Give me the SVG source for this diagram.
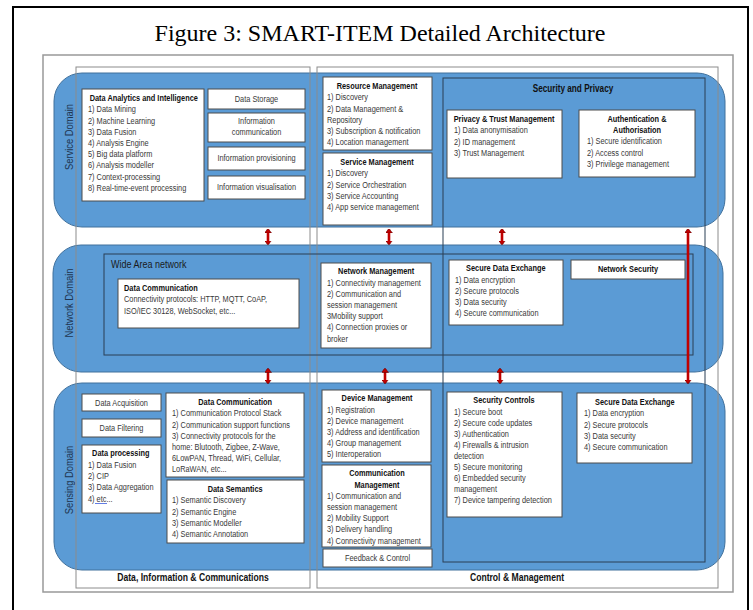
<svg xmlns="http://www.w3.org/2000/svg" width="753" height="610" viewBox="0 0 753 610">
<style>
.dom{fill:#5B9BD5;stroke:#41719C;stroke-width:1}
.col{fill:none;stroke:#8c8c8c;stroke-width:1}
.grp{fill:none;stroke:#2b3f55;stroke-width:1}
.box{fill:#fff;stroke:#4d4d4d;stroke-width:1}
.t{font-family:"Liberation Sans",Arial,sans-serif;font-size:9px;fill:#383838}
.b{font-weight:bold;fill:#111}
.c{text-anchor:middle}
.dl{font-family:"Liberation Sans",Arial,sans-serif;font-size:11px;fill:#1f3550;text-anchor:middle}
.bl{font-family:"Liberation Sans",Arial,sans-serif;font-size:10.5px;font-weight:bold;fill:#111;text-anchor:middle}
.arr{stroke:#C00000;stroke-width:2.6;fill:none;marker-start:url(#ah);marker-end:url(#ah)}
</style>
<defs>
<marker id="ah" viewBox="0 0 4.5 7" markerUnits="userSpaceOnUse" markerWidth="4.5" markerHeight="7" refX="3.5" refY="3.5" orient="auto-start-reverse">
<path d="M0,0 L4.5,3.5 L0,7 z" fill="#C00000" stroke="#5a0000" stroke-width="0.5"/>
</marker>
</defs>
<rect x="0" y="0" width="753" height="610" fill="#fff"/>
<rect x="13" y="7" width="735" height="610" fill="none" stroke="#000" stroke-width="2"/>
<text x="380" y="41" font-family="'Liberation Serif','Times New Roman',serif" font-size="24" text-anchor="middle" fill="#000">Figure 3: SMART-ITEM Detailed Architecture</text>
<rect x="43" y="55" width="690" height="537" fill="none" stroke="#999" stroke-width="1.5"/>

<g id="domains">
<g id="service-domain"><rect class="dom" x="54" y="73" width="671" height="154" rx="28"/><text class="dl" transform="translate(73,137) rotate(-90) scale(0.85,1)">Service Domain</text></g>
<g id="network-domain"><rect class="dom" x="53" y="245" width="670" height="127" rx="28"/><text class="dl" transform="translate(73,303) rotate(-90) scale(0.85,1)">Network Domain</text></g>
<g id="sensing-domain"><rect class="dom" x="54" y="383" width="671" height="187" rx="28"/><text class="dl" transform="translate(73,480) rotate(-90) scale(0.85,1)">Sensing Domain</text></g>
</g>

<g id="col-data"><rect class="col" x="76" y="67" width="234" height="521"/><text class="bl" transform="matrix(.82 0 0 1 193 0)" y="581">Data, Information &amp; Communications</text></g>
<g id="col-control"><rect class="col" x="317" y="67" width="401" height="521"/><text class="bl" transform="matrix(.82 0 0 1 517 0)" y="581">Control &amp; Management</text></g>
<g id="security-privacy"><rect class="grp" x="443" y="78" width="262" height="484"/><text class="t b c" transform="matrix(.82 0 0 1 573 0)" y="92" style="font-size:10px">Security and Privacy</text></g>
<g id="wide-area-network"><rect class="grp" x="104" y="254" width="589" height="101"/><text class="t" transform="matrix(.82 0 0 1 111 0)" y="268" style="font-size:11px;fill:#1a1a1a">Wide Area network</text></g>

<g id="data-analytics"><rect class="box" x="82" y="89" width="122" height="112"/>
<text class="t" transform="matrix(.82 0 0 1 88 0)"><tspan class="b" x="2" y="101">Data Analytics and Intelligence</tspan><tspan x="0" y="112.5">1) Data Mining</tspan><tspan x="0" y="123.7">2) Machine Learning</tspan><tspan x="0" y="134.9">3) Data Fusion</tspan><tspan x="0" y="146.1">4) Analysis Engine</tspan><tspan x="0" y="157.3">5) Big data platform</tspan><tspan x="0" y="168.5">6) Analysis modeller</tspan><tspan x="0" y="179.7">7) Context-processing</tspan><tspan x="0" y="190.9">8) Real-time-event processing</tspan></text></g>
<g id="data-storage"><rect class="box" x="208" y="89" width="97" height="20"/><text class="t c" transform="matrix(.82 0 0 1 256.5 0)" y="102">Data Storage</text></g>
<g id="info-communication"><rect class="box" x="208" y="113" width="97" height="29"/><text class="t c" transform="matrix(.82 0 0 1 256.5 0)"><tspan x="0" y="124">Information</tspan><tspan x="0" y="135">communication</tspan></text></g>
<g id="info-provisioning"><rect class="box" x="208" y="147" width="97" height="23"/><text class="t c" transform="matrix(.82 0 0 1 256.5 0)" y="161">Information provisioning</text></g>
<g id="info-visualisation"><rect class="box" x="208" y="176" width="97" height="23"/><text class="t c" transform="matrix(.82 0 0 1 256.5 0)" y="190">Information visualisation</text></g>

<g id="resource-management"><rect class="box" x="323" y="77" width="109" height="73"/>
<text class="t" transform="matrix(.82 0 0 1 327 0)"><tspan class="b c" x="61" y="89">Resource Management</tspan><tspan x="0" y="100.5">1) Discovery</tspan><tspan x="0" y="111.7">2) Data Management &amp;</tspan><tspan x="0" y="122.9">Repository</tspan><tspan x="0" y="134.1">3) Subscription &amp; notification</tspan><tspan x="0" y="145.3">4) Location management</tspan></text></g>
<g id="service-management"><rect class="box" x="323" y="153" width="109" height="72"/>
<text class="t" transform="matrix(.82 0 0 1 327 0)"><tspan class="b c" x="61" y="165">Service Management</tspan><tspan x="0" y="176.5">1) Discovery</tspan><tspan x="0" y="187.7">2) Service Orchestration</tspan><tspan x="0" y="198.9">3) Service Accounting</tspan><tspan x="0" y="210.1">4) App service management</tspan></text></g>

<g id="privacy-trust"><rect class="box" x="447" y="110" width="115" height="68"/>
<text class="t" transform="matrix(.82 0 0 1 454 0)"><tspan class="b c" x="61" y="122">Privacy &amp; Trust Management</tspan><tspan x="0" y="133.5">1) Data anonymisation</tspan><tspan x="0" y="144.7">2) ID management</tspan><tspan x="0" y="155.9">3) Trust Management</tspan></text></g>
<g id="auth"><rect class="box" x="579" y="110" width="116" height="67"/>
<text class="t" transform="matrix(.82 0 0 1 587 0)"><tspan class="b c" x="61" y="122">Authentication &amp;</tspan><tspan class="b c" x="61" y="133">Authorisation</tspan><tspan x="0" y="144.5">1) Secure identification</tspan><tspan x="0" y="155.7">2) Access control</tspan><tspan x="0" y="166.9">3) Privilege management</tspan></text></g>

<g id="net-data-communication"><rect class="box" x="118" y="279" width="181" height="49"/>
<text class="t" transform="matrix(.82 0 0 1 124 0)"><tspan class="b" x="0" y="291">Data Communication</tspan><tspan x="0" y="302.5">Connectivity protocols: HTTP, MQTT, CoAP,</tspan><tspan x="0" y="313.7">ISO/IEC 30128, WebSocket, etc...</tspan></text></g>
<g id="network-management"><rect class="box" x="321" y="263" width="110" height="85"/>
<text class="t" transform="matrix(.82 0 0 1 327 0)"><tspan class="b c" x="60" y="274.5">Network Management</tspan><tspan x="0" y="285.7">1) Connectivity management</tspan><tspan x="0" y="296.9">2) Communication and</tspan><tspan x="0" y="308.1">session management</tspan><tspan x="0" y="319.3">3Mobility support</tspan><tspan x="0" y="330.5">4) Connection proxies or</tspan><tspan x="0" y="341.7">broker</tspan></text></g>
<g id="net-secure-data-exchange"><rect class="box" x="449" y="260" width="114" height="65"/>
<text class="t" transform="matrix(.82 0 0 1 455 0)"><tspan class="b c" x="62" y="271.5">Secure Data Exchange</tspan><tspan x="0" y="282.7">1) Data encryption</tspan><tspan x="0" y="293.9">2) Secure protocols</tspan><tspan x="0" y="305.1">3) Data security</tspan><tspan x="0" y="316.3">4) Secure communication</tspan></text></g>
<g id="network-security"><rect class="box" x="571" y="260" width="114" height="19"/><text class="t b c" transform="matrix(.82 0 0 1 628 0)" y="272">Network Security</text></g>

<g id="data-acquisition"><rect class="box" x="82" y="394" width="79" height="17"/><text class="t c" transform="matrix(.82 0 0 1 121.5 0)" y="406">Data Acquisition</text></g>
<g id="data-filtering"><rect class="box" x="82" y="419" width="79" height="18"/><text class="t c" transform="matrix(.82 0 0 1 121.5 0)" y="431">Data Filtering</text></g>
<g id="data-processing"><rect class="box" x="82" y="445" width="79" height="68"/>
<text class="t" transform="matrix(.82 0 0 1 88 0)"><tspan class="b c" x="40" y="456.5">Data processing</tspan><tspan x="0" y="468">1) Data Fusion</tspan><tspan x="0" y="479.2">2) CIP</tspan><tspan x="0" y="490.4">3) Data Aggregation</tspan><tspan x="0" y="501.6">4) etc...</tspan></text>
<line x1="95" y1="503.5" x2="107" y2="503.5" stroke="#3b5bdb" stroke-width="0.8"/></g>
<g id="sens-data-communication"><rect class="box" x="166" y="393" width="138" height="84"/>
<text class="t" transform="matrix(.82 0 0 1 172 0)"><tspan class="b c" x="77" y="405">Data Communication</tspan><tspan x="0" y="416.5">1) Communication Protocol Stack</tspan><tspan x="0" y="427.7">2) Communication support functions</tspan><tspan x="0" y="438.9">3) Connectivity protocols for the</tspan><tspan x="0" y="450.1">home: Blutooth, Zigbee, Z-Wave,</tspan><tspan x="0" y="461.3">6LowPAN, Thread, WiFi, Cellular,</tspan><tspan x="0" y="472.5">LoRaWAN, etc...</tspan></text></g>
<g id="data-semantics"><rect class="box" x="167" y="480" width="137" height="63"/>
<text class="t" transform="matrix(.82 0 0 1 172 0)"><tspan class="b c" x="77" y="492">Data Semantics</tspan><tspan x="0" y="503.5">1) Semantic Discovery</tspan><tspan x="0" y="514.7">2) Semantic Engine</tspan><tspan x="0" y="525.9">3) Semantic Modeller</tspan><tspan x="0" y="537.1">4) Semantic Annotation</tspan></text></g>

<g id="device-management"><rect class="box" x="322" y="390" width="109" height="72"/>
<text class="t" transform="matrix(.82 0 0 1 327 0)"><tspan class="b c" x="61" y="401.5">Device Management</tspan><tspan x="0" y="412.7">1) Registration</tspan><tspan x="0" y="423.9">2) Device management</tspan><tspan x="0" y="435.1">3) Address and identification</tspan><tspan x="0" y="446.3">4) Group management</tspan><tspan x="0" y="457.5">5) Interoperation</tspan></text></g>
<g id="communication-management"><rect class="box" x="322" y="465" width="109" height="82"/>
<text class="t" transform="matrix(.82 0 0 1 327 0)"><tspan class="b c" x="61" y="476.5">Communication</tspan><tspan class="b c" x="61" y="487.7">Management</tspan><tspan x="0" y="498.9">1) Communication and</tspan><tspan x="0" y="510.1">session management</tspan><tspan x="0" y="521.3">2) Mobility Support</tspan><tspan x="0" y="532.5">3) Delivery handling</tspan><tspan x="0" y="543.7">4) Connectivity management</tspan></text></g>
<g id="feedback-control"><rect class="box" x="323" y="549" width="109" height="18"/><text class="t c" transform="matrix(.82 0 0 1 377.5 0)" y="561">Feedback &amp; Control</text></g>

<g id="security-controls"><rect class="box" x="447" y="392" width="115" height="125"/>
<text class="t" transform="matrix(.82 0 0 1 454 0)"><tspan class="b c" x="61" y="403.5">Security Controls</tspan><tspan x="0" y="415">1) Secure boot</tspan><tspan x="0" y="426">2) Secure code updates</tspan><tspan x="0" y="437">3) Authentication</tspan><tspan x="0" y="448">4) Firewalls &amp; intrusion</tspan><tspan x="0" y="459">detection</tspan><tspan x="0" y="470">5) Secure monitoring</tspan><tspan x="0" y="481">6) Embedded security</tspan><tspan x="0" y="492">management</tspan><tspan x="0" y="503">7) Device tampering detection</tspan></text></g>
<g id="sens-secure-data-exchange"><rect class="box" x="577" y="393" width="115" height="70"/>
<text class="t" transform="matrix(.82 0 0 1 584 0)"><tspan class="b c" x="62" y="405">Secure Data Exchange</tspan><tspan x="0" y="416.5">1) Data encryption</tspan><tspan x="0" y="427.7">2) Secure protocols</tspan><tspan x="0" y="438.9">3) Data security</tspan><tspan x="0" y="450.1">4) Secure communication</tspan></text></g>

<g id="connectors">
<line class="arr" x1="268" y1="229.5" x2="268" y2="244"/>
<line class="arr" x1="389" y1="229.5" x2="389" y2="244"/>
<line class="arr" x1="502" y1="229.5" x2="502" y2="244"/>
<line class="arr" x1="268" y1="369" x2="268" y2="383"/>
<line class="arr" x1="385" y1="369" x2="385" y2="383"/>
<line class="arr" x1="500" y1="369" x2="500" y2="383"/>
<line class="arr" x1="688" y1="229.5" x2="688" y2="383"/>
</g>
</svg>
